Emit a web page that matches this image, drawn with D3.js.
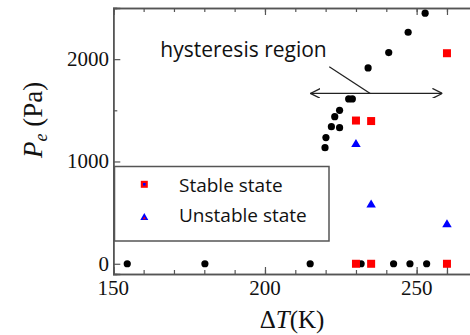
<!DOCTYPE html>
<html>
<head>
<meta charset="utf-8">
<script src="https://cdn.jsdelivr.net/npm/d3@7"></script>
<style>
  body { margin: 0; background: #fff; }
  svg { display: block; }
</style>
</head>
<body>
<div id="chart"></div>
<script>
// measured data (ΔT in K, Pe in Pa)
const circleT = [154.6, 180.2, 214.9, 231.7, 242.4, 247.8, 253.3,
                 219.8, 220.1, 221.9, 224.6, 223.0, 224.6, 227.6, 228.8, 234.0, 240.8, 247.2, 252.8];
const circleP = [0, 0, 0, 0, 0, 0, 0,
                 1135, 1233, 1340, 1330, 1438, 1500, 1611, 1611, 1914, 2064, 2263, 2449];
const stableT = [230, 235, 260, 230, 235, 260];
const stableP = [1400, 1395, 2058, 0, 0, 0];
const unstableT = [230, 235, 260];
const unstableP = [1180, 590, 395];

const xTicks = [150, 200, 250];
const yTicks = [0, 1000, 2000];
const legendLabels = ['Stable state', 'Unstable state'];

// annotation in data coordinates
const arrowT = [215, 258.5];
const arrowP = 1665;
const leaderT = [221.2, 234.7];
const leaderP = [1925, 1665];
const annText = 'hysteresis region';

const width = 470, height = 335;
const x = d3.scaleLinear().domain([150, 270]).range([113.3, 477.3]);
const y = d3.scaleLinear().domain([-100, 2500]).range([274, 8]);

const svg = d3.select('#chart').append('svg')
    .attr('width', width)
    .attr('height', height);

const frameColor = '#555';
const textColor = '#111';
const serif = '"Liberation Serif", "DejaVu Serif", serif';
const sans = '"Open Sans", "Liberation Sans", sans-serif';

// axes (ticks inward on all four sides)
const minorX = d3.range(150, 271, 10);
const majorX = xTicks.concat([260]);
const gBottom = svg.append('g').attr('transform', `translate(0,${y.range()[0]})`)
    .call(d3.axisBottom(x).tickValues(minorX).tickSize(-4).tickFormat(''));
const gTop = svg.append('g').attr('transform', `translate(0,${y.range()[1]})`)
    .call(d3.axisTop(x).tickValues(minorX).tickSize(-4).tickFormat(''));
gBottom.append('g').call(d3.axisBottom(x).tickValues(majorX).tickSize(-7).tickFormat(''));
gTop.append('g').call(d3.axisTop(x).tickValues(majorX).tickSize(-7).tickFormat(''));

const gLeft = svg.append('g').attr('transform', `translate(${x.range()[0]},0)`)
    .call(d3.axisLeft(y).tickValues([500, 1500, 2500]).tickSize(-4).tickFormat(''));
gLeft.append('g').call(d3.axisLeft(y).tickValues(yTicks).tickSize(-7).tickFormat(''));
const gRight = svg.append('g').attr('transform', `translate(${x.range()[1]},0)`)
    .call(d3.axisRight(y).tickValues([500, 1500, 2500]).tickSize(-4).tickFormat(''));
gRight.append('g').call(d3.axisRight(y).tickValues(yTicks).tickSize(-7).tickFormat(''));

svg.selectAll('.domain').attr('stroke', frameColor).attr('stroke-width', 1.5);
svg.selectAll('.tick line').attr('stroke', frameColor).attr('stroke-width', 1.2);

// tick labels
svg.append('g').selectAll('text')
    .data(xTicks)
    .join('text')
    .attr('x', d => x(d))
    .attr('y', 295)
    .attr('text-anchor', 'middle')
    .attr('fill', textColor)
    .style('font-family', serif)
    .style('font-size', '21px')
    .text(d => d);

svg.append('g').selectAll('text')
    .data(yTicks)
    .join('text')
    .attr('x', 109)
    .attr('y', d => y(d) + 7)
    .attr('text-anchor', 'end')
    .attr('fill', textColor)
    .style('font-family', serif)
    .style('font-size', '21px')
    .text(d => d);

// axis titles
const xt = svg.append('text')
    .attr('x', 292).attr('y', 328)
    .attr('text-anchor', 'middle')
    .attr('fill', textColor)
    .style('font-family', serif)
    .style('font-size', '25px');
xt.append('tspan').text('Δ');
xt.append('tspan').style('font-style', 'italic').text('T');
xt.append('tspan').text('(K)');

const yt = svg.append('text')
    .attr('transform', 'translate(42,120) rotate(-90)')
    .attr('text-anchor', 'middle')
    .attr('fill', textColor)
    .style('font-family', serif)
    .style('font-size', '27px');
yt.append('tspan').style('font-style', 'italic').text('P');
yt.append('tspan').style('font-style', 'italic').style('font-size', '18px').attr('dy', 5).text('e');
yt.append('tspan').attr('dy', -5).text(' (Pa)');

// annotation
svg.append('text')
    .attr('x', x(165.5)).attr('y', y(2025))
    .style('font-family', sans)
    .style('font-size', '21px')
    .attr('fill', textColor)
    .text(annText);

const defs = svg.append('defs');
defs.append('marker')
    .attr('id', 'open-arrow')
    .attr('viewBox', '0 0 10 10')
    .attr('refX', 10).attr('refY', 5)
    .attr('markerWidth', 10).attr('markerHeight', 10)
    .attr('markerUnits', 'userSpaceOnUse')
    .attr('orient', 'auto-start-reverse')
    .append('path')
    .attr('d', 'M0,0 L10,5 L0,10')
    .attr('fill', 'none')
    .attr('stroke', '#222')
    .attr('stroke-width', 1.3);

svg.append('line')
    .attr('x1', x(arrowT[0])).attr('x2', x(arrowT[1]))
    .attr('y1', y(arrowP)).attr('y2', y(arrowP))
    .attr('stroke', '#222').attr('stroke-width', 1.3)
    .attr('marker-start', 'url(#open-arrow)')
    .attr('marker-end', 'url(#open-arrow)');

svg.append('line')
    .attr('x1', x(leaderT[0])).attr('y1', y(leaderP[0]))
    .attr('x2', x(leaderT[1])).attr('y2', y(leaderP[1]))
    .attr('stroke', '#222').attr('stroke-width', 1.3);

// marks
const tri = (cx, cy, w, h) => `M${cx},${cy - h / 2}L${cx + w / 2},${cy + h / 2}L${cx - w / 2},${cy + h / 2}Z`;

svg.append('g').selectAll('circle')
    .data(d3.zip(circleT, circleP))
    .join('circle')
    .attr('cx', d => x(d[0]))
    .attr('cy', d => y(d[1]))
    .attr('r', 3.6)
    .attr('fill', '#000');

svg.append('g').selectAll('rect')
    .data(d3.zip(stableT, stableP))
    .join('rect')
    .attr('x', d => x(d[0]) - 4)
    .attr('y', d => y(d[1]) - 4)
    .attr('width', 8).attr('height', 8)
    .attr('fill', '#ff0000');

svg.append('g').selectAll('path')
    .data(d3.zip(unstableT, unstableP))
    .join('path')
    .attr('d', d => tri(x(d[0]), y(d[1]), 9.5, 8))
    .attr('fill', '#0000ff');

// legend
const lg = svg.append('g');
lg.append('rect')
    .attr('x', 114.5).attr('y', 166.5)
    .attr('width', 214.5).attr('height', 74.5)
    .attr('fill', '#fff')
    .attr('stroke', frameColor).attr('stroke-width', 1.5);

lg.append('rect').attr('x', 140.8).attr('y', 180.8).attr('width', 7).attr('height', 7).attr('fill', '#ff0000');
lg.append('rect').attr('x', 143).attr('y', 183).attr('width', 2.6).attr('height', 2.6).attr('fill', '#0000ff');
lg.append('path').attr('d', tri(144.3, 216.5, 8, 7)).attr('fill', '#0000ff');
lg.append('path').attr('d', tri(144.3, 217.8, 3, 2.8)).attr('fill', '#ff0000');

lg.selectAll('text.lab')
    .data(legendLabels)
    .join('text')
    .attr('class', 'lab')
    .attr('x', 179)
    .attr('y', (d, i) => 191.7 + i * 30.6)
    .style('font-family', sans)
    .style('font-size', '19px')
    .attr('fill', textColor)
    .text(d => d);
</script>
</body>
</html>
